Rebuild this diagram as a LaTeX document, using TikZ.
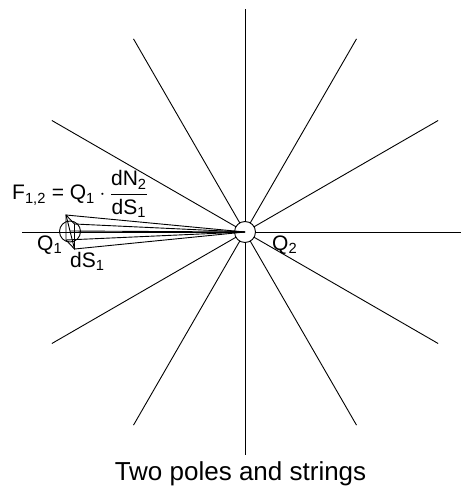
\documentclass[tikz,border=0pt]{standalone}
\usepackage{amsmath}
\usepackage{fontspec}
\setmainfont{Liberation Sans}
\begin{document}
\begin{tikzpicture}[x=1pt,y=-1pt,
  ray/.style={line width=0.9pt,line cap=butt},
  pole/.style={circle,draw,line width=0.9pt,fill=white,minimum size=21pt,inner sep=0pt},
  lbl/.style={inner sep=0pt,font=\fontsize{21}{24}\selectfont},
  titletext/.style={inner sep=0pt,font=\fontsize{26}{30}\selectfont}]
\useasboundingbox (0,0) rectangle (461,486);
\coordinate (O) at (245,232);
% radial strings of Q2
\foreach \a in {30,60,...,330}{
  \draw[ray] (O) -- ++(\a:223);
}
\draw[ray] (O) -- (461,232);
\coordinate (L) at (22,232);
\draw[ray] (L) -- (O);
\node[pole] (Q2) at (O) {};
% element dS1 at Q1
\node[circle,draw,line width=0.9pt,minimum size=21pt,inner sep=0pt] (Q1) at (70,231.5) {};
\coordinate (A) at (66,215);
\coordinate (B) at (66,240);
\coordinate (C) at (74.5,249);
\coordinate (D) at (74.5,224);
\coordinate (M) at (70,231);
\draw[ray] (A) -- (B) -- (C) -- (D) -- cycle;
\draw[ray] (A) -- (C);
\foreach \p in {A,D,M,B,C}{
  \draw[ray] (\p) -- (O);
}
% labels
\node[lbl,anchor=base west] (F) at (12,200)
  {F$_{\text{1,2}}$ = Q$_{\text{1}}\cdot\dfrac{\text{dN}_{\text{2}}}{\text{dS}_{\text{1}}}$};
\node[lbl,anchor=base west] (q1) at (37,250) {Q$_{\text{1}}$};
\node[lbl,anchor=base west] (ds) at (70,267) {dS$_{\text{1}}$};
\node[lbl,anchor=base west] (q2) at (272,250) {Q$_{\text{2}}$};
\node[titletext,anchor=base] (title) at (240.5,480) {Two poles and strings};
\end{tikzpicture}
\end{document}
